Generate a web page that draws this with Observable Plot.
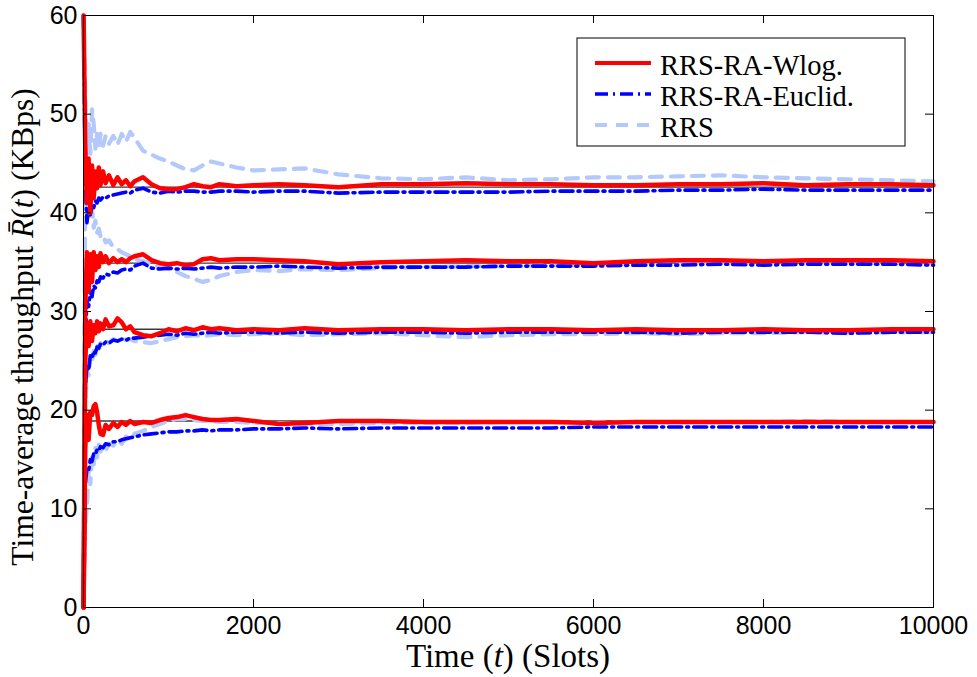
<!DOCTYPE html>
<html><head><meta charset="utf-8">
<script src="https://cdn.jsdelivr.net/npm/d3@7"></script>
<script src="https://cdn.jsdelivr.net/npm/@observablehq/plot@0.6"></script>
<style>body{margin:0;background:#fff;}#chart svg{display:block;}</style>
</head><body><div id="chart"></div>
<script>
// Time slots (x)
const slots = [1,20,40,60,80,100,120,140,160,180,200,230,260,300,350,400,450,500,550,600,700,800,900,1000,1100,1200,1300,1400,1500,1600,1800,2000,2300,2600,3000,3500,4000,4500,5000,5500,6000,6500,7000,7500,8000,8500,9000,9500,10000];

// RRS-RA-Wlog. (red), four users
const wlog1 = [60,47,41,45.5,40,44.8,41.5,44.2,42.5,44.6,42.8,44.2,43.0,43.8,42.8,43.6,42.9,43.3,42.7,43.2,43.6,42.9,42.5,42.4,42.4,42.6,42.9,42.7,42.6,42.9,42.7,42.8,42.9,42.8,42.6,42.9,42.9,43.0,42.9,42.9,42.8,42.8,42.9,42.9,43.0,42.8,42.9,42.9,42.8];
const wlog2 = [0,30,36,32,35.8,33,36,34.2,35.6,34.5,35.9,35.0,35.6,34.9,35.4,35.0,35.3,35.0,35.4,35.6,35.8,35.2,34.9,34.8,34.9,34.7,34.8,35.3,35.4,35.2,35.3,35.3,35.2,35.1,34.8,35.0,35.1,35.2,35.1,35.1,34.9,35.1,35.2,35.2,35.1,35.2,35.2,35.2,35.1];
const wlog3 = [0,25,28.5,26.5,29.0,27.0,28.6,27.8,29.0,28.0,28.8,28.2,29.2,28.5,28.6,29.3,28.9,28.2,28.5,27.9,27.6,27.5,27.8,28.2,28.0,28.3,28.1,28.4,28.2,28.3,28.1,28.2,28.1,28.3,28.1,28.2,28.2,28.1,28.2,28.2,28.1,28.2,28.1,28.1,28.2,28.1,28.1,28.2,28.2];
const wlog4 = [0,16,19.5,17,19.8,19.5,20.4,20.6,19.8,18.5,17.6,17.5,18.5,18.1,18.7,18.3,18.8,18.5,18.9,18.6,18.8,18.7,19.0,19.2,19.3,19.5,19.3,19.1,19.0,19.0,19.1,18.9,18.6,18.7,18.9,18.9,18.8,18.8,18.8,18.8,18.7,18.8,18.8,18.8,18.8,18.8,18.8,18.8,18.8];

// RRS-RA-Euclid. (blue)
const euclid1 = [60,44,39,40.5,39.8,40.8,40.5,41.2,41.0,41.5,41.3,41.6,41.5,41.7,41.8,41.9,42.0,42.1,42.0,42.3,42.5,42.1,42.0,42.2,42.1,42.2,42.2,42.1,42.1,42.2,42.2,42.1,42.2,42.2,42.0,42.1,42.1,42.1,42.1,42.2,42.2,42.2,42.3,42.3,42.4,42.3,42.3,42.3,42.3];
const euclid2 = [0,27,31,30.5,32.0,31.5,32.6,32.4,33.1,33.0,33.5,33.4,33.8,33.7,34.0,33.9,34.2,34.3,34.2,34.6,34.9,34.4,34.3,34.4,34.3,34.4,34.3,34.4,34.5,34.4,34.5,34.5,34.6,34.5,34.4,34.5,34.5,34.5,34.6,34.6,34.6,34.7,34.7,34.8,34.7,34.8,34.8,34.8,34.7];
const euclid3 = [0,22,24.5,24.0,25.5,25.2,26.0,25.8,26.4,26.3,26.7,26.6,26.9,26.8,27.1,27.0,27.2,27.1,27.3,27.3,27.4,27.5,27.6,27.7,27.6,27.8,27.7,27.8,27.9,27.8,27.9,27.9,27.8,27.9,27.8,27.9,27.9,27.8,27.9,27.9,27.9,27.9,27.8,27.9,27.9,27.9,27.8,27.9,27.9];
const euclid4 = [0,12.5,14.0,13.8,15.0,14.8,15.6,15.5,16.0,15.9,16.3,16.2,16.6,16.5,16.8,16.8,17.0,17.1,17.2,17.3,17.5,17.6,17.7,17.8,17.8,17.9,17.9,18.0,17.9,18.0,18.0,18.1,18.1,18.2,18.1,18.2,18.2,18.2,18.2,18.2,18.3,18.3,18.3,18.3,18.3,18.3,18.3,18.3,18.3];

// RRS (light blue)
const rrs1 = [60,52,46,49,46,50.5,49,46.5,48,46.5,48,46.8,47.8,47.0,47.8,46.9,48.0,47.2,48.2,47.6,46.3,45.9,45.5,45.2,44.8,44.4,44.3,44.8,45.2,45.0,44.6,44.3,44.4,44.5,43.9,43.5,43.4,43.6,43.3,43.4,43.6,43.6,43.7,43.8,43.6,43.5,43.4,43.3,43.2];
const rrs2 = [0,44,40,42,39.5,40.5,38.5,39.2,38.0,38.4,37.6,37.8,37.0,37.2,36.5,36.3,36.0,35.8,35.6,35.3,35.1,34.8,34.5,34.3,34.0,33.6,33.3,33.0,33.2,33.6,34.0,34.2,34.1,34.3,34.2,34.4,34.5,34.6,34.6,34.7,34.8,34.9,35.0,35.0,35.0,35.0,35.0,34.9,34.9];
const rrs3 = [0,20,24,23.5,25.5,24.8,26.0,25.6,26.5,26.2,26.8,26.5,27.0,26.8,27.2,27.0,27.3,27.1,27.2,27.0,26.9,26.8,27.0,27.2,27.4,27.5,27.6,27.5,27.6,27.7,27.6,27.7,27.8,27.6,27.7,27.8,27.6,27.4,27.6,27.7,27.7,27.8,27.7,27.8,27.8,27.9,27.8,27.9,27.9];
const rrs4 = [0,8.5,10,14.0,12.5,15.5,14.5,16.2,15.2,16.5,15.8,16.3,15.9,16.6,16.4,16.9,16.6,17.3,17.0,17.6,17.9,18.3,18.6,18.9,19.1,19.1,19.0,18.9,18.9,18.8,18.8,18.7,18.7,18.6,18.6,18.7,18.7,18.7,18.8,18.8,18.8,18.8,18.8,18.8,18.8,18.9,18.8,18.8,18.8];

// Target (optimal) throughputs, thin black lines
const targets = [42.6, 34.9, 28.2, 18.9];

const xTicks = [0,2000,4000,6000,8000,10000];
const yTicks = [0,10,20,30,40,50,60];
const seriesNames = ["RRS-RA-Wlog.", "RRS-RA-Euclid.", "RRS"];
const seriesColors = ["#ff0000", "#0000ff", "#b3c9fb"];
const seriesDash = [null, "13,5,2,5", "12,9"];

function rows(name, groups) {
  const out = [];
  groups.forEach((vals, g) => vals.forEach((v, i) => out.push({t: slots[i], v, g, name})));
  return out;
}
const wlogRows = rows(seriesNames[0], [wlog1, wlog2, wlog3, wlog4]);
const euclidRows = rows(seriesNames[1], [euclid1, euclid2, euclid3, euclid4]);
const rrsRows = rows(seriesNames[2], [rrs1, rrs2, rrs3, rrs4]);

const W = 977, H = 677, mL = 83, mR = 44, mT = 15, mB = 70;
const fw = W - mL - mR, fh = H - mT - mB, tl = 8;

const plot = Plot.plot({
  width: W, height: H,
  marginLeft: mL, marginRight: mR, marginTop: mT, marginBottom: mB,
  x: {domain: [0, 10000]},
  y: {domain: [0, 60]},
  style: {fontFamily: "'Liberation Sans', Arial, sans-serif", fontSize: "25px", color: "black", background: "white"},
  marks: [
    Plot.ruleY(targets, {stroke: "#3a3a3a", strokeWidth: 1.3}),
    Plot.line(rrsRows, {x: "t", y: "v", z: "g", stroke: seriesColors[2], strokeWidth: 4.2, strokeDasharray: seriesDash[2], strokeLinejoin: "round"}),
    Plot.line(euclidRows, {x: "t", y: "v", z: "g", stroke: seriesColors[1], strokeWidth: 3.6, strokeDasharray: seriesDash[1], strokeLinejoin: "round"}),
    Plot.line(wlogRows, {x: "t", y: "v", z: "g", stroke: seriesColors[0], strokeWidth: 4.5, strokeLinejoin: "round"}),
    Plot.frame({stroke: "black", strokeWidth: 1}),
    Plot.tickX(xTicks, {x: d => d, insetTop: fh - tl, stroke: "black"}),
    Plot.tickX(xTicks, {x: d => d, insetBottom: fh - tl, stroke: "black"}),
    Plot.tickY(yTicks, {y: d => d, insetRight: fw - tl, stroke: "black"}),
    Plot.tickY(yTicks, {y: d => d, insetLeft: fw - tl, stroke: "black"}),
    Plot.axisX(xTicks, {anchor: "bottom", tickSize: 0, tickPadding: 9, label: null, fontSize: 25, tickFormat: d => String(d)}),
    Plot.axisY(yTicks, {anchor: "left", tickSize: 0, tickPadding: 6, label: null, fontSize: 25, tickFormat: d => String(d)})
  ]
});
document.getElementById("chart").appendChild(plot);

const svg = d3.select(plot);
const serif = "'Liberation Serif', 'Times New Roman', serif";

// x title
const xt = svg.append("text").attr("x", mL + fw / 2).attr("y", 667)
  .attr("text-anchor", "middle").attr("font-family", serif).attr("font-size", 33).attr("fill", "black");
xt.append("tspan").text("Time (");
xt.append("tspan").attr("font-style", "italic").text("t");
xt.append("tspan").text(") (Slots)");

// y title
const yt = svg.append("text").attr("transform", "translate(33,327) rotate(-90)")
  .attr("text-anchor", "middle").attr("font-family", serif).attr("font-size", 31.5).attr("fill", "black");
yt.append("tspan").text("Time-average throughput ");
yt.append("tspan").attr("font-style", "italic").text("R\u0304");
yt.append("tspan").text("(");
yt.append("tspan").attr("font-style", "italic").text("t");
yt.append("tspan").text(") (KBps)");

// legend
const lg = svg.append("g");
lg.append("rect").attr("x", 577).attr("y", 38).attr("width", 328).attr("height", 108)
  .attr("fill", "white").attr("stroke", "black").attr("stroke-width", 1);
const rowY = [63, 94, 125];
seriesNames.forEach((name, i) => {
  lg.append("line").attr("x1", 595).attr("x2", 651).attr("y1", rowY[i]).attr("y2", rowY[i])
    .attr("stroke", seriesColors[i]).attr("stroke-width", i === 1 ? 3.6 : 4.2)
    .attr("stroke-dasharray", seriesDash[i]);
  lg.append("text").attr("x", 660).attr("y", rowY[i] + 12).attr("text-anchor", "start")
    .attr("font-family", serif).attr("font-size", 28.5).attr("fill", "black").text(name);
});
</script>
</body></html>
